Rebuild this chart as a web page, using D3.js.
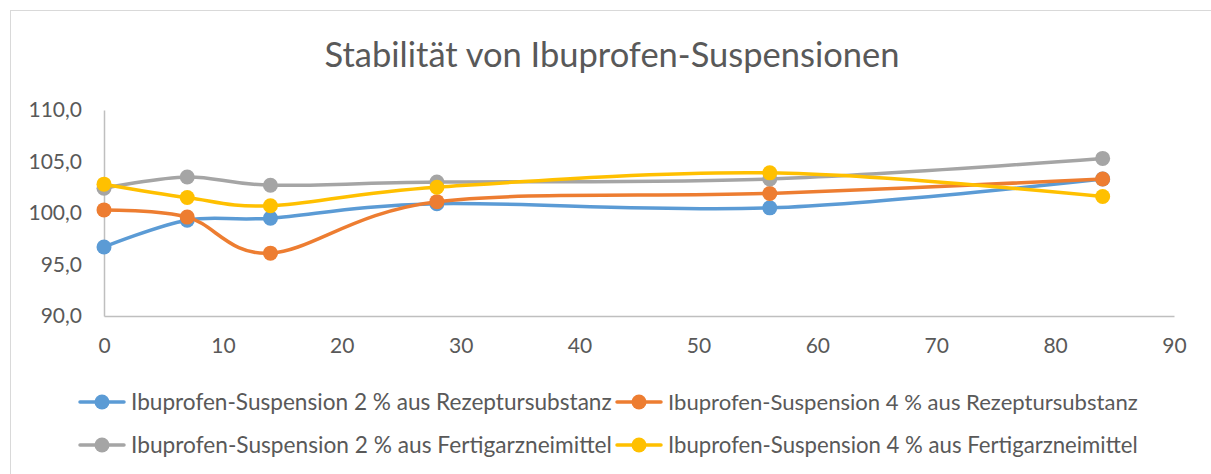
<!DOCTYPE html>
<html>
<head>
<meta charset="utf-8">
<script src="https://cdn.jsdelivr.net/npm/d3@7"></script>
<style>
  body { margin: 0; background: #fff; }
  text { font-family: Lato, "Open Sans", sans-serif; fill: #595959; }
</style>
</head>
<body>
<div id="chart"></div>
<script>
// time in days
const days = [0, 7, 14, 28, 56, 84];

const seriesNames = [
  "Ibuprofen-Suspension 2 % aus Rezeptursubstanz",
  "Ibuprofen-Suspension 4 % aus Rezeptursubstanz",
  "Ibuprofen-Suspension 2 % aus Fertigarzneimittel",
  "Ibuprofen-Suspension 4 % aus Fertigarzneimittel"
];
const seriesColors = ["#5b9bd5", "#ed7d31", "#a5a5a5", "#ffc000"];

const rezeptur2 = [96.7, 99.3, 99.5, 100.9, 100.5, 103.3];
const rezeptur4 = [100.3, 99.6, 96.1, 101.1, 101.9, 103.3];
const fertig2   = [102.4, 103.5, 102.7, 103.0, 103.3, 105.3];
const fertig4   = [102.8, 101.5, 100.7, 102.5, 103.9, 101.6];

const yTicks = [90, 95, 100, 105, 110];
const xTicks = [0, 10, 20, 30, 40, 50, 60, 70, 80, 90];

const allSeries = [rezeptur2, rezeptur4, fertig2, fertig4];

const W = 1211, H = 474;
const margin = {left: 104, right: 37, top: 110, bottom: 158};

const svg = d3.select("#chart").append("svg")
  .attr("width", W).attr("height", H);

// chart frame
svg.append("rect")
  .attr("x", 10.5).attr("y", 10.5)
  .attr("width", W + 10).attr("height", H + 10)
  .attr("fill", "#fff").attr("stroke", "#d9d9d9");

const x = d3.scaleLinear().domain([0, 90]).range([margin.left, W - margin.right]);
const y = d3.scaleLinear().domain([90, 110]).range([H - margin.bottom, margin.top]);

// fit text to a target width
function fitWidth(sel, target) {
  const node = sel.node();
  const fs = parseFloat(sel.attr("font-size"));
  const w = node.getComputedTextLength();
  sel.attr("font-size", fs * target / w);
}

// title
const title = svg.append("text")
  .attr("x", 612).attr("y", 67)
  .attr("text-anchor", "middle")
  .attr("font-size", 30)
  .text("Stabilität von Ibuprofen-Suspensionen");
fitWidth(title, 575);

// axes
const yAxis = svg.append("g")
  .attr("transform", `translate(${margin.left},0)`)
  .call(d3.axisLeft(y).tickValues(yTicks).tickSize(0).tickPadding(22)
    .tickFormat(d => d3.format(".1f")(d).replace(".", ",")));
yAxis.select(".domain").attr("stroke", "#bfbfbf").attr("stroke-width", 1.5);
yAxis.selectAll("text").attr("font-size", 21).attr("font-family", null).attr("fill", "#595959");

const xAxis = svg.append("g")
  .attr("transform", `translate(0,${y(90)})`)
  .call(d3.axisBottom(x).tickValues(xTicks).tickSize(0).tickPadding(22));
xAxis.select(".domain").attr("stroke", "#bfbfbf").attr("stroke-width", 1.5);
xAxis.selectAll("text").attr("font-size", 21).attr("font-family", null).attr("fill", "#595959");

// lines
const line = d3.line()
  .x((d, i) => x(days[i]))
  .y(d => y(d))
  .curve(d3.curveCardinal.tension(0));

allSeries.forEach((vals, si) => {
  const g = svg.append("g");
  g.append("path")
    .datum(vals)
    .attr("d", line)
    .attr("fill", "none")
    .attr("stroke", seriesColors[si])
    .attr("stroke-width", 3.5)
    .attr("stroke-linecap", "round");
  g.selectAll("circle")
    .data(vals)
    .join("circle")
    .attr("cx", (d, i) => x(days[i]))
    .attr("cy", d => y(d))
    .attr("r", 7.5)
    .attr("fill", seriesColors[si]);
});

// legend
const legendPos = [[80, 402], [617, 402], [80, 445], [617, 445]];
seriesNames.forEach((name, i) => {
  const [lx, ly] = legendPos[i];
  const g = svg.append("g").attr("transform", `translate(${lx},${ly})`);
  g.append("line")
    .attr("x1", 0).attr("x2", 44).attr("y1", 0).attr("y2", 0)
    .attr("stroke", seriesColors[i]).attr("stroke-width", 3.5)
    .attr("stroke-linecap", "round");
  g.append("circle").attr("cx", 22).attr("cy", 0).attr("r", 7.5)
    .attr("fill", seriesColors[i]);
  const t = g.append("text")
    .attr("x", 51).attr("y", 0).attr("dy", "0.35em")
    .attr("font-size", 19)
    .text(name);
  fitWidth(t, i % 2 === 0 ? 481 : 470);
});
</script>
</body>
</html>
